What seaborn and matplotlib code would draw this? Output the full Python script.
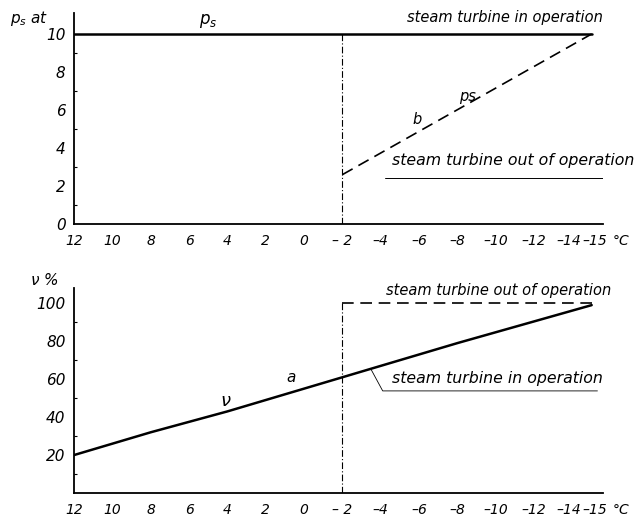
import matplotlib
matplotlib.use("Agg")
import matplotlib.pyplot as plt
import matplotlib.transforms as mtransforms
import seaborn as sns
import numpy as np

# ---- data ----
x_ticks = [12, 10, 8, 6, 4, 2, 0, -2, -4, -6, -8, -10, -12, -14, -15]
x_ticklabels = ["12", "10", "8", "6", "4", "2", "0", "– 2", "–4", "–6", "–8", "–10", "–12", "–14", "–15"]

ps_on_t = [12, -15]
ps_on = [10, 10]
ps_off_t = [-2, -15]
ps_off = [2.6, 10]
switch_t = [-2, -2]
ps_switch = [0, 10]

nu_on_t = [12, 10, 8, 4, 0, -2, -8, -15]
nu_on = [20, 26, 32, 43, 55, 61, 79, 99]
nu_off_t = [-2, -15]
nu_off = [100, 100]
nu_switch = [0, 100]

ps_yticks = [0, 2, 4, 6, 8, 10]
nu_yticks = [20, 40, 60, 80, 100]

sns.set_style("white")
plt.rcParams["font.family"] = ["DejaVu Sans"]
plt.rcParams["font.style"] = "italic"
plt.rcParams["text.color"] = "black"

fig = plt.figure(figsize=(6.36, 5.26), dpi=100)
ax1 = fig.add_axes([0.1164, 0.5741, 0.832, 0.4011])
ax2 = fig.add_axes([0.1164, 0.0627, 0.832, 0.3897])

lw = 1.8
kw = dict(estimator=None, sort=False, color="black")
sns.lineplot(x=ps_on_t, y=ps_on, ax=ax1, lw=lw, **kw)
sns.lineplot(x=ps_off_t, y=ps_off, ax=ax1, lw=1.2, linestyle=(0, (7, 4)), **kw)
sns.lineplot(x=switch_t, y=ps_switch, ax=ax1, lw=0.8, linestyle=(0, (6, 2, 1, 2)), **kw)

sns.lineplot(x=nu_on_t, y=nu_on, ax=ax2, lw=lw, **kw)
sns.lineplot(x=nu_off_t, y=nu_off, ax=ax2, lw=1.2, linestyle=(0, (7, 4)), **kw)
sns.lineplot(x=switch_t, y=nu_switch, ax=ax2, lw=0.8, linestyle=(0, (6, 2, 1, 2)), **kw)

for ax, ymax, yt, minor in [(ax1, 11.1, ps_yticks, np.arange(1, 11, 2)),
                             (ax2, 108, nu_yticks, np.arange(10, 101, 20))]:
    ax.set_xlim(12, -15.6)
    ax.set_ylim(0, ymax)
    ax.set_xticks(x_ticks)
    ax.set_xticklabels(x_ticklabels, fontsize=10, style="italic")
    ax.set_yticks(yt)
    ax.set_yticklabels([str(v) for v in yt], fontsize=11, style="italic")
    ax.set_yticks(minor, minor=True)
    for s in ["top", "right"]:
        ax.spines[s].set_visible(False)
    for s in ["left", "bottom"]:
        ax.spines[s].set_linewidth(1.3)
        ax.spines[s].set_color("black")
    ax.tick_params(axis="both", which="major", direction="in", length=3, width=0.8, pad=6, colors="black")
    ax.tick_params(axis="y", which="minor", direction="in", length=2, width=0.8, left=True, colors="black")
    ax.tick_params(axis="x", pad=7)
    ax.set_xlabel("")
    ax.set_ylabel("")
    for lab in ax.get_xticklabels():
        t = lab.get_text()
        if t == "–14":
            lab.set_transform(lab.get_transform() + mtransforms.ScaledTranslation(-3 / 72, 0, fig.dpi_scale_trans))
        elif t == "–15":
            lab.set_transform(lab.get_transform() + mtransforms.ScaledTranslation(2.5 / 72, 0, fig.dpi_scale_trans))
    ax.text(1.017, -0.082 if ax is ax1 else -0.084, "°C", transform=ax.transAxes, fontsize=10,
            style="italic", ha="left", va="center")

# top annotations
ax1.text(-15.6, 10.45, "steam turbine in operation", fontsize=10.5, style="italic", ha="right", va="bottom")
ax1.text(-4.6, 2.95, "steam turbine out of operation", fontsize=11.3, style="italic", ha="left", va="bottom")
ax1.plot([-4.2, -15.6], [2.4, 2.4], color="black", lw=0.7)
ax1.text(5.0, 10.2, "$p_s$", fontsize=12, ha="center", va="bottom")
ax1.text(-5.9, 5.1, "b", fontsize=10.5, style="italic", ha="center", va="bottom")
ax1.text(-8.5, 6.3, "ps", fontsize=10.5, style="italic", ha="center", va="bottom")

# bottom annotations
ax2.text(-16.0, 102.5, "steam turbine out of operation", fontsize=10.5, style="italic", ha="right", va="bottom")
ax2.text(-4.6, 56.5, "steam turbine in operation", fontsize=11.3, style="italic", ha="left", va="bottom")
ax2.plot([-3.5, -4.1, -15.3], [65, 53.8, 53.8], color="black", lw=0.6)
ax2.text(4.1, 44, r"$\nu$", fontsize=13, ha="center", va="bottom")
ax2.text(0.7, 57, "a", fontsize=11, style="italic", ha="center", va="bottom")

fig.text(10 / 636, 1 - 18 / 526, "$p_s$ at", fontsize=11, style="italic", ha="left", va="center")
fig.text(30 / 636, 1 - 280 / 526, r"$\nu$ %", fontsize=11, style="italic", ha="left", va="center")

fig.savefig("out.png", dpi=100, facecolor="white")
